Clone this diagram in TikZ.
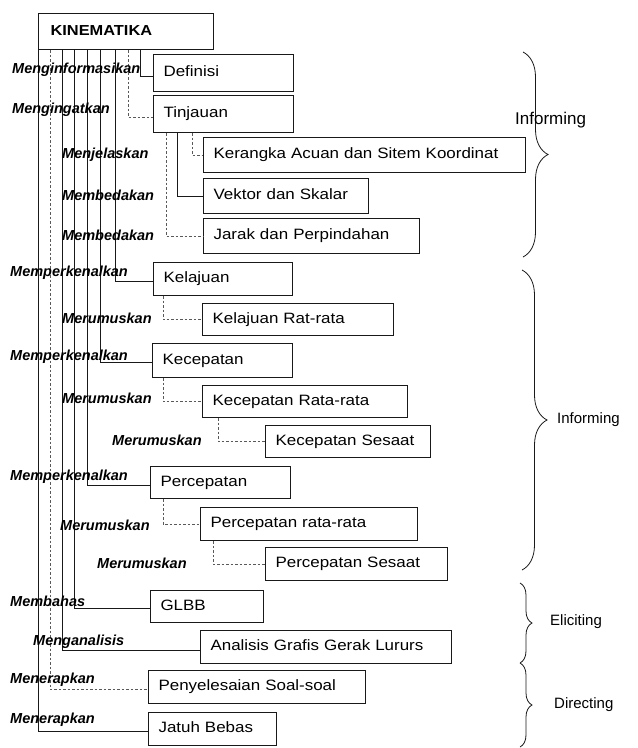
\documentclass[tikz,border=0pt]{standalone}
\usepackage{fontspec}
\usepackage{tikz}
\usetikzlibrary{positioning, decorations.pathreplacing}
\setmainfont{Liberation Sans}
\newfontfamily\boxFont{Liberation Sans}[FakeStretch=1.13]
\newfontfamily\labFont{Liberation Sans}
\definecolor{mainBlack}{gray}{0.1}
\definecolor{subGray}{gray}{0.35}

\begin{document}
\begin{tikzpicture}[x=1pt, y=-1pt,
    kotak/.style={draw=mainBlack, line width=1.1pt, anchor=north west, inner xsep=10pt, inner ysep=0pt,
        text height=10.7pt, text depth=3pt, align=left, font=\boxFont\fontsize{15}{18}\selectfont},
    aksi/.style={anchor=west, inner sep=0pt, font=\labFont\bfseries\itshape\fontsize{14.5}{17}\selectfont},
    garis/.style={line width=0.9pt, mainBlack},
    putus/.style={line width=0.7pt, subGray, dash pattern=on 2.5pt off 2pt},
    kurung/.style={line width=0.8pt, mainBlack, decorate, decoration={brace, amplitude=#1}},
    fase/.style={anchor=west, inner sep=0pt, font=\fontsize{15}{18}\selectfont}]
    \useasboundingbox (0,0) rectangle (638,748);

    % kotak materi
    \node[kotak, inner xsep=12pt, text width=151pt, minimum height=36pt, font=\boxFont\bfseries\fontsize{14.5}{17}\selectfont] (kin) at (38,13) {KINEMATIKA};
    \node[kotak, text width=120pt, minimum height=37pt] (def) at (153,54) {Definisi};
    \node[kotak, text width=120pt, minimum height=37pt] (tin) at (153,95) {Tinjauan};
    \node[kotak, text width=302pt, minimum height=35pt] (ker) at (203,137) {Kerangka Acuan dan Sitem Koordinat};
    \node[kotak, text width=145pt, minimum height=35pt] (vek) at (203,178) {Vektor dan Skalar};
    \node[kotak, text width=196pt, minimum height=35pt] (jar) at (203,218) {Jarak dan Perpindahan};
    \node[kotak, text width=119pt, minimum height=33pt] (kel) at (153,262) {Kelajuan};
    \node[kotak, text width=171pt, minimum height=32pt] (kelr) at (202,303) {Kelajuan Rat-rata};
    \node[kotak, text width=120pt, minimum height=34pt] (kec) at (152,343) {Kecepatan};
    \node[kotak, text width=185pt, minimum height=32pt] (kecr) at (202,385) {Kecepatan Rata-rata};
    \node[kotak, text width=145pt, minimum height=32pt] (kecs) at (265,425) {Kecepatan Sesaat};
    \node[kotak, text width=120pt, minimum height=32pt] (per) at (150,466) {Percepatan};
    \node[kotak, text width=197pt, minimum height=33pt] (perr) at (200,507) {Percepatan rata-rata};
    \node[kotak, text width=162pt, minimum height=33pt] (pers) at (265,547) {Percepatan Sesaat};
    \node[kotak, text width=93pt, minimum height=32pt] (glbb) at (150,590) {GLBB};
    \node[kotak, text width=231pt, minimum height=33pt] (ana) at (200,630) {Analisis Grafis Gerak Lururs};
    \node[kotak, text width=197pt, minimum height=33pt] (pen) at (148,670) {Penyelesaian Soal-soal};
    \node[kotak, text width=108pt, minimum height=33pt] (jat) at (148,712) {Jatuh Bebas};

    % garis dari KINEMATIKA
    \draw[garis] (kin.south west) |- ([yshift=-2pt]jat.west);
    \draw[putus] ([xshift=12pt]kin.south west) |- ([yshift=-2.5pt]pen.west);
    \draw[garis] ([xshift=24pt]kin.south west) |- ([yshift=-3pt]ana.west);
    \draw[garis] ([xshift=36pt]kin.south west) |- ([yshift=-2pt]glbb.west);
    \draw[garis] ([xshift=49pt]kin.south west) |- ([yshift=-3pt]per.west);
    \draw[garis] ([xshift=62pt]kin.south west) |- ([yshift=-2pt]kec.west);
    \draw[garis] ([xshift=77pt]kin.south west) |- ([yshift=-2pt]kel.west);
    \draw[putus] ([xshift=90pt]kin.south west) |- ([yshift=-3pt]tin.west);
    \draw[garis] ([xshift=102pt]kin.south west) |- ([yshift=-3pt]def.west);

    % cabang
    \draw[putus] ([xshift=39pt]tin.south west) |- (ker.west);
    \draw[garis] ([xshift=24pt]tin.south west) |- (vek.west);
    \draw[putus] ([xshift=13pt]tin.south west) |- (jar.west);
    \draw[putus] ([xshift=10pt]kel.south west) |- (kelr.west);
    \draw[putus] ([xshift=11pt]kec.south west) |- (kecr.west);
    \draw[putus] ([xshift=16pt]kecr.south west) |- (kecs.west);
    \draw[putus] ([xshift=13pt]per.south west) |- (perr.west);
    \draw[putus] ([xshift=13pt]perr.south west) |- (pers.west);

    % kata kerja
    \node[aksi] (a1) at (12,70) {Menginformasikan};
    \node[aksi] (a2) at (12,110) {Mengingatkan};
    \node[aksi] (a3) at (62,155) {Menjelaskan};
    \node[aksi] (a4) at (62,195) {Membedakan};
    \node[aksi] (a5) at (62,235) {Membedakan};
    \node[aksi] (a6) at (10,273) {Memperkenalkan};
    \node[aksi] (a7) at (62,318) {Merumuskan};
    \node[aksi] (a8) at (10,357) {Memperkenalkan};
    \node[aksi] (a9) at (62,398) {Merumuskan};
    \node[aksi] (a10) at (112,440) {Merumuskan};
    \node[aksi] (a11) at (10,477) {Memperkenalkan};
    \node[aksi] (a12) at (60,525) {Merumuskan};
    \node[aksi] (a13) at (97,563) {Merumuskan};
    \node[aksi] (a14) at (10,601) {Membahas};
    \node[aksi] (a15) at (33,642) {Menganalisis};
    \node[aksi] (a16) at (10,680) {Menerapkan};
    \node[aksi] (a17) at (10,720) {Menerapkan};

    % kurung kurawal
    \draw[kurung=25pt] (523,52) -- (523,257);
    \draw[kurung=25pt] (522,270) -- (522,570);
    \draw[kurung=12pt] (520,583) -- (520,663);
    \draw[kurung=12pt] (520,663) -- (520,747);
    \node[fase, font=\fontsize{17}{20}\selectfont] (f1) at (515,120) {Informing};
    \node[fase] (f2) at (557,420) {Informing};
    \node[fase] (f3) at (550,622) {Eliciting};
    \node[fase] (f4) at (554,705) {Directing};
\end{tikzpicture}
\end{document}
